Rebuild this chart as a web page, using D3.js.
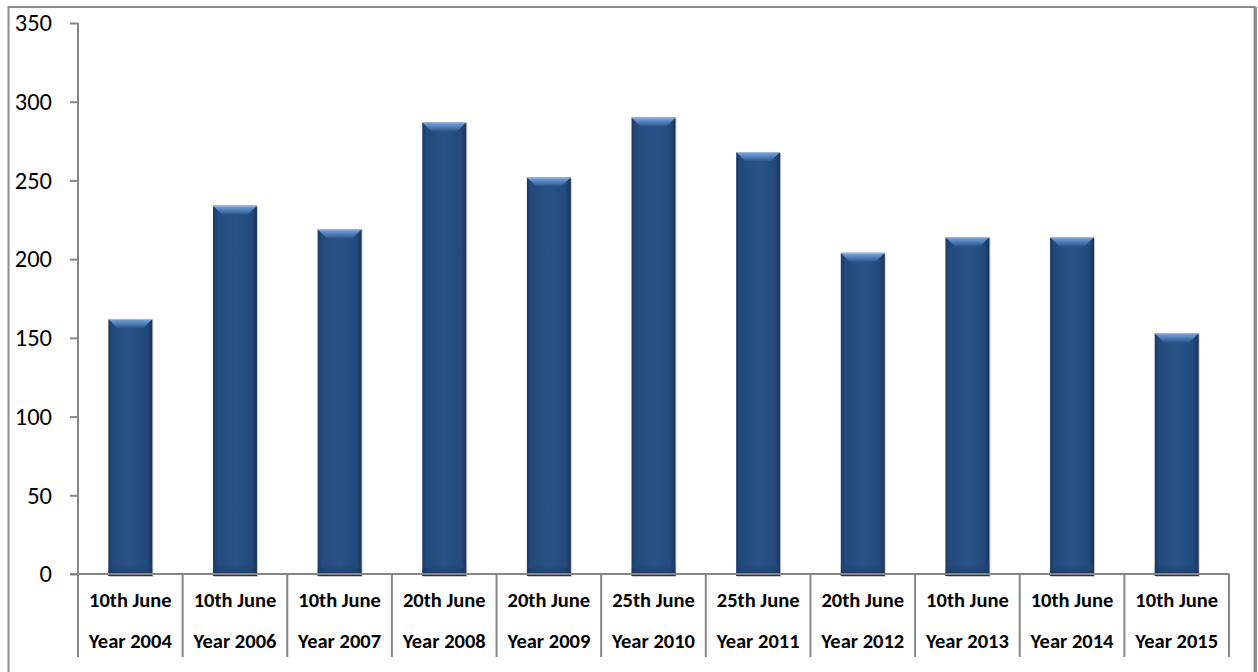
<!DOCTYPE html>
<html>
<head>
<meta charset="utf-8">
<script src="https://cdn.jsdelivr.net/npm/d3@7"></script>
<style>
  html, body { margin: 0; padding: 0; background: #fff; }
  svg { display: block; }
  text { font-family: Calibri, Carlito, Lato, "Liberation Sans", sans-serif; fill: #000; }
</style>
</head>
<body>
<svg id="chart" width="1258" height="672"></svg>
<script>
// Data
const dateLabels = ["10th June", "10th June", "10th June", "20th June", "20th June", "25th June",
                    "25th June", "20th June", "10th June", "10th June", "10th June"];
const yearLabels = ["Year 2004", "Year 2006", "Year 2007", "Year 2008", "Year 2009", "Year 2010",
                    "Year 2011", "Year 2012", "Year 2013", "Year 2014", "Year 2015"];
const values = [162, 234, 219, 287, 252, 290, 268, 204, 214, 214, 153];
const yTicks = [0, 50, 100, 150, 200, 250, 300, 350];

const svg = d3.select("#chart");
const W = 1258, H = 672;
const plot = { left: 78, right: 1229, top: 23, bottom: 574 };

// Outer chart frame
svg.append("rect")
  .attr("x", 8.5).attr("y", 7).attr("width", 1246).attr("height", 680)
  .attr("fill", "none").attr("stroke", "#8c8c8c").attr("stroke-width", 2);
svg.append("line")
  .attr("x1", 1255.5).attr("x2", 1255.5).attr("y1", 7).attr("y2", H)
  .attr("stroke", "#8c8c8c").attr("stroke-width", 3);

const x = d3.scaleBand()
  .domain(d3.range(values.length))
  .range([plot.left, plot.right])
  .paddingInner(0.58)
  .paddingOuter(0.29);

const y = d3.scaleLinear().domain([0, 350]).range([plot.bottom, plot.top]);

// Gradients for the bevelled bars
const defs = svg.append("defs");
const body = defs.append("linearGradient").attr("id", "barBody")
  .attr("x1", "0").attr("x2", "1").attr("y1", "0").attr("y2", "0");
[["0%", "#1b3a63"], ["10%", "#234a7c"], ["50%", "#285287"], ["88%", "#234a7c"], ["100%", "#17345a"]]
  .forEach(([o, c]) => body.append("stop").attr("offset", o).attr("stop-color", c));

const bevel = defs.append("linearGradient").attr("id", "barBevel")
  .attr("x1", "0").attr("x2", "0").attr("y1", "0").attr("y2", "1");
[["0%", "#7aa5dc"], ["40%", "#5d89c3"], ["100%", "#2c568c"]]
  .forEach(([o, c]) => bevel.append("stop").attr("offset", o).attr("stop-color", c));

const bottomShade = defs.append("linearGradient").attr("id", "barBottom")
  .attr("x1", "0").attr("x2", "0").attr("y1", "0").attr("y2", "1");
[["0%", "#285287", 0], ["100%", "#15304f", 0.8]]
  .forEach(([o, c, a]) => bottomShade.append("stop").attr("offset", o).attr("stop-color", c).attr("stop-opacity", a));

const bars = svg.append("g").selectAll("g").data(values).join("g");
const bw = x.bandwidth();
const bevelH = 9;

// Faint shadow under each bar
bars.append("rect")
  .attr("x", (d, i) => x(i) + 1)
  .attr("y", d => y(d) + 1)
  .attr("width", bw)
  .attr("height", d => y(0) - y(d) + 2)
  .attr("fill", "#c8c8c8");

bars.append("rect")
  .attr("x", (d, i) => x(i))
  .attr("y", d => y(d))
  .attr("width", bw)
  .attr("height", d => y(0) - y(d) + 2)
  .attr("fill", "url(#barBody)");

bars.append("rect")
  .attr("x", (d, i) => x(i))
  .attr("y", d => y(0) - 12)
  .attr("width", bw)
  .attr("height", 14)
  .attr("fill", "url(#barBottom)");

// Top bevel: a lighter trapezoid
bars.append("path")
  .attr("d", (d, i) => {
    const x0 = x(i), x1 = x(i) + bw, t = y(d);
    return `M${x0},${t}L${x1},${t}L${x1 - bevelH},${t + bevelH}L${x0 + bevelH},${t + bevelH}Z`;
  })
  .attr("fill", "url(#barBevel)");
bars.append("line")
  .attr("x1", (d, i) => x(i)).attr("x2", (d, i) => x(i) + bw)
  .attr("y1", d => y(d) + 0.5).attr("y2", d => y(d) + 0.5)
  .attr("stroke", "#9bbbe3").attr("stroke-width", 1);

// Y axis
const yAxis = svg.append("g")
  .attr("transform", `translate(${plot.left},0)`)
  .call(d3.axisLeft(y).tickValues(yTicks).tickSize(8).tickPadding(18).tickFormat(d3.format("d")));
yAxis.select(".domain").attr("stroke", "#868686").attr("stroke-width", 2)
  .attr("d", `M0,${plot.top}V${plot.bottom}`);
yAxis.selectAll(".tick line").attr("stroke", "#868686").attr("stroke-width", 2);
yAxis.selectAll(".tick text")
  .style("font-family", "Calibri, Carlito, Lato, sans-serif")
  .attr("font-size", 24.5).attr("fill", "#000");

// X axis baseline and category dividers
const xg = svg.append("g");
xg.append("line")
  .attr("x1", plot.left - 8).attr("x2", plot.right)
  .attr("y1", y(0)).attr("y2", y(0))
  .attr("stroke", "#868686").attr("stroke-width", 2);

const bounds = d3.range(values.length + 1).map(i => plot.left + i * x.step());
xg.selectAll("line.div").data(bounds).join("line")
  .attr("class", "div")
  .attr("x1", d => d).attr("x2", d => d)
  .attr("y1", y(0)).attr("y2", y(0) + 83)
  .attr("stroke", "#868686").attr("stroke-width", 2);

const labels = xg.selectAll("g.lab").data(values).join("g")
  .attr("class", "lab")
  .attr("transform", (d, i) => `translate(${x(i) + bw / 2},0)`);
labels.append("text")
  .attr("y", y(0) + 33).attr("text-anchor", "middle")
  .attr("font-size", 20.5).attr("font-weight", "bold")
  .text((d, i) => dateLabels[i]);
labels.append("text")
  .attr("y", y(0) + 74).attr("text-anchor", "middle")
  .attr("font-size", 20.5).attr("font-weight", "bold")
  .text((d, i) => yearLabels[i]);
</script>
</body>
</html>
